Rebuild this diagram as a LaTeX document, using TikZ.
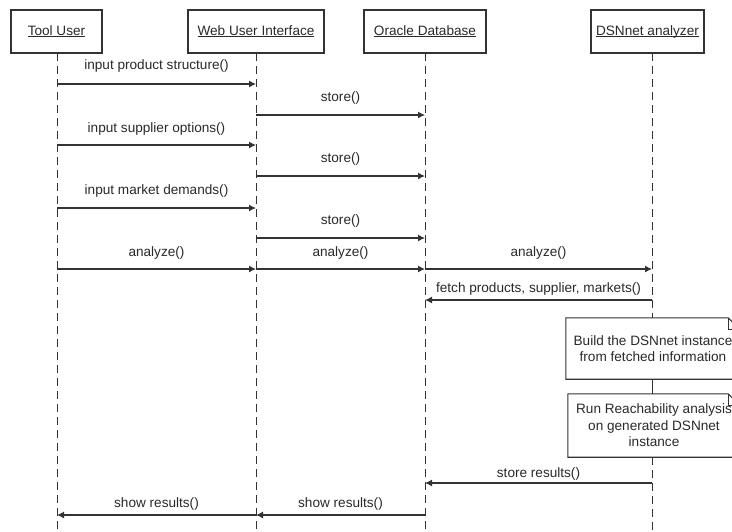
\documentclass[tikz,border=0pt]{standalone}
\usepackage{fontspec}
\setmainfont{Liberation Sans}
\usetikzlibrary{arrows.meta,calc}
\definecolor{linec}{HTML}{333333}
\definecolor{textc}{HTML}{2a2a2a}
\newcommand{\hdtext}[1]{\setbox0\hbox{#1}\rlap{\rule[-1.8pt]{\wd0}{0.7pt}}\box0}
\begin{document}
\begin{tikzpicture}[x=1pt,y=-1pt,
  font=\fontsize{13.6}{16}\selectfont,
  headbox/.style={draw=linec, line width=1.1pt, inner sep=0pt, text=textc,
    text height=9.8pt, text depth=2.6pt},
  life/.style={draw=linec, line width=1pt, dash pattern=on 8pt off 5pt},
  msg/.style={draw=linec, line width=1.1pt, -{Latex[length=7pt,width=7pt]}},
  lbl/.style={anchor=base, text=textc, inner sep=0pt},
  notebox/.style={draw=none, inner sep=0pt, align=center, text=textc,
    font=\fontsize{13.6}{16.5}\selectfont},
  noteline/.style={draw=linec, line width=1.1pt},
]
\useasboundingbox (0,0) rectangle (732,531);
\fill[white] (0,0) rectangle (732,531);
\clip (0,0) rectangle (732,531);

% header boxes
\node[headbox, minimum width=91pt, minimum height=43pt] (hT) at (56.5,31.5) {\hdtext{Tool User}};
\node[headbox, minimum width=136pt, minimum height=43pt] (hW) at (256,31.5) {\hdtext{Web User Interface}};
\node[headbox, minimum width=122pt, minimum height=43pt] (hO) at (425,31.5) {\hdtext{Oracle Database}};
\node[headbox, minimum width=113pt, minimum height=43pt] (hD) at (647.5,31.5) {\hdtext{DSNnet analyzer}};

% lifeline anchor points
\coordinate (Ttop) at (57,53);  \coordinate (Tbot) at (57,531);
\coordinate (Wtop) at (256,53); \coordinate (Wbot) at (256,531);
\coordinate (Otop) at (425,53); \coordinate (Obot) at (425,531);
\coordinate (Dtop) at (652,53); \coordinate (Dbot) at (652,531);

\foreach \n/\y in {1/84,2/115,3/145,4/176,5/208,6/238,7/269,8/300,9/483,10/515}{
  \coordinate (T\n) at (57,\y);
  \coordinate (W\n) at (256,\y);
  \coordinate (O\n) at (425,\y);
  \coordinate (D\n) at (652,\y);
}

% notes
\node[notebox, minimum width=174pt, minimum height=61pt] (n1) at (653,348.5)
  {Build the DSNnet instance\\from fetched information};
\node[notebox, minimum width=172pt, minimum height=63pt] (n2) at (654,425.5)
  {Run Reachability analysis\\on generated DSNnet\\instance};
\foreach \nn in {n1,n2}{
  \draw[noteline] (\nn.south west) -- (\nn.north west)
    -- ($(\nn.north east)+(-12,0)$) -- ($(\nn.north east)+(0,12)$)
    -- (\nn.south east) -- cycle;
  \draw[noteline] ($(\nn.north east)+(-12,0)$) |- ($(\nn.north east)+(0,12)$);
}

% lifelines
\draw[life] (Ttop) -- (Tbot);
\draw[life] (Wtop) -- (Wbot);
\draw[life] (Otop) -- (Obot);
\draw[life] (Dtop) -- (Dtop |- n1.north);
\draw[draw=linec, line width=1pt] (Dtop |- n1.south) -- (Dtop |- n2.north);
\draw[life] (Dtop |- n2.south) -- (Dbot);

% messages
\draw[msg] (T1) -- node[lbl, yshift=15pt] {input product structure()} (W1);
\draw[msg] (W2) -- node[lbl, yshift=14pt] {store()} (O2);
\draw[msg] (T3) -- node[lbl, yshift=13pt] {input supplier options()} (W3);
\draw[msg] (W4) -- node[lbl, yshift=14pt] {store()} (O4);
\draw[msg] (T5) -- node[lbl, yshift=14pt] {input market demands()} (W5);
\draw[msg] (W6) -- node[lbl, yshift=14pt] {store()} (O6);
\draw[msg] (T7) -- node[lbl, yshift=13pt] {analyze()} (W7);
\draw[msg] (W7) -- node[lbl, yshift=13pt] {analyze()} (O7);
\draw[msg] (O7) -- node[lbl, yshift=13pt] {analyze()} (D7);
\draw[msg] (D8) -- node[lbl, yshift=8pt] {fetch products, supplier, markets()} (O8);
\draw[msg] (D9) -- node[lbl, yshift=6pt] {store results()} (O9);
\draw[msg] (O10) -- node[lbl, yshift=8pt] {show results()} (W10);
\draw[msg] (W10) -- node[lbl, yshift=8pt] {show results()} (T10);
\end{tikzpicture}
\end{document}
